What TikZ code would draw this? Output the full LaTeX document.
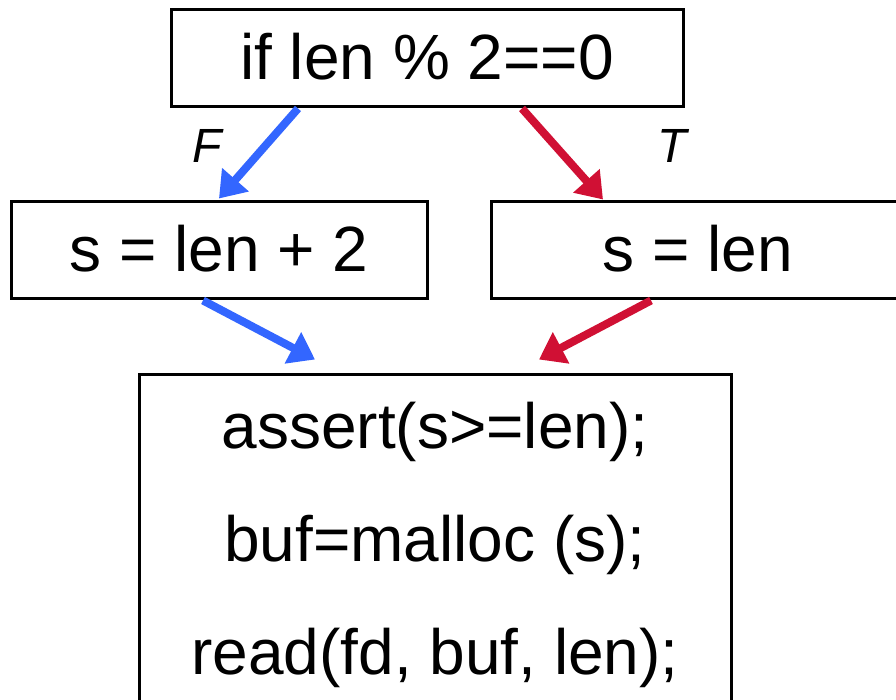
\documentclass[tikz,border=0pt]{standalone}
\usepackage{fontspec}
\setmainfont{Liberation Sans}
\usetikzlibrary{arrows.meta}
\definecolor{fblue}{RGB}{51,102,255}
\definecolor{tred}{RGB}{208,16,52}
\tikzset{
  box/.style={draw=black, line width=1.5pt, inner sep=0pt, fill=white,
    text height=21pt, text depth=0pt,
    font=\fontsize{32}{38}\selectfont},
  codeline/.style={anchor=base, inner sep=0pt, font=\fontsize{32}{38}\selectfont},
  lab/.style={inner sep=0pt, font=\fontsize{24}{28}\selectfont\itshape},
  conn/.style={line width=4pt, -{Triangle[length=12.5pt,width=17pt]}},
}
\begin{document}
\begin{tikzpicture}[x=0.5pt,y=-0.5pt]
\useasboundingbox (0,0) rectangle (896,700);
\clip (0,0) rectangle (896,700);
\node[box, minimum width=256pt, minimum height=48.5pt] (top) at (427,58.5) {if len \% 2==0};
\node[box, minimum width=208pt, minimum height=48.5pt] (left) at (219,250.5) {s = len + 2};
\node[box, minimum width=207pt, minimum height=48.5pt] (right) at (698,250.5) {s = len};
\node[box, minimum width=296pt, minimum height=212.5pt] (bottom) at (435,587.5) {};
\node[codeline] (code1) at (435,449) {assert(s>=len);};
\node[codeline] (code2) at (435,562) {buf=malloc (s);};
\node[codeline] (code3) at (435,675) {read(fd, buf, len);};
\node[lab] (lF) at (207,146) {F};
\node[lab] (lT) at (672,146) {T};
\draw[conn, fblue] ([xshift=-64.5pt]top.south) -- ([yshift=1pt]left.north);
\draw[conn, tred] ([xshift=47.5pt]top.south) -- ([xshift=-47.5pt,yshift=0.5pt]right.north);
\draw[conn, fblue] ([xshift=-8pt]left.south) -- ([xshift=-60pt,yshift=7pt]bottom.north);
\draw[conn, tred] ([xshift=-23.5pt]right.south) -- ([xshift=52pt,yshift=7pt]bottom.north);
\end{tikzpicture}
\end{document}
